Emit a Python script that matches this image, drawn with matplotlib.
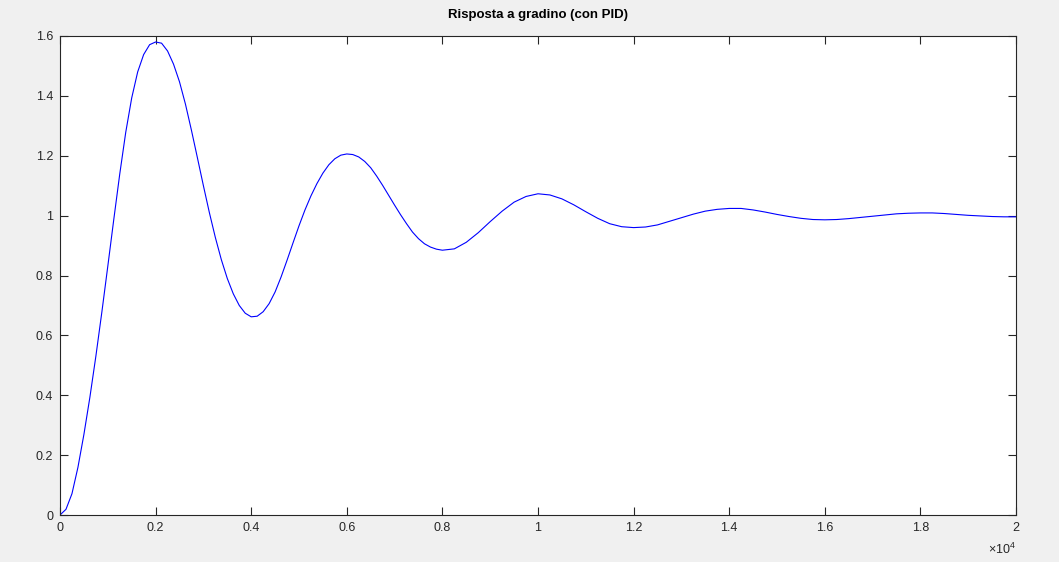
import numpy as np
import matplotlib
matplotlib.use("Agg")
import matplotlib.pyplot as plt
from matplotlib.ticker import FuncFormatter

plt.rcParams['font.family'] = ['Liberation Sans', 'DejaVu Sans']
plt.rcParams['mathtext.fontset'] = 'custom'
plt.rcParams['mathtext.rm'] = 'Liberation Sans'

# step response samples: fine grid up to 8000, coarser after
t_fine = np.arange(0, 8000, 125)
y_fine = [0.000, 0.019, 0.071, 0.159, 0.269, 0.393, 0.530, 0.677,
          0.831, 0.987, 1.139, 1.278, 1.393, 1.480, 1.538, 1.571,
          1.580, 1.576, 1.550, 1.506, 1.447, 1.372, 1.285, 1.193,
          1.100, 1.010, 0.927, 0.853, 0.790, 0.739, 0.700, 0.674,
          0.662, 0.664, 0.679, 0.706, 0.745, 0.795, 0.851, 0.909,
          0.966, 1.019, 1.066, 1.107, 1.142, 1.170, 1.190, 1.202,
          1.206, 1.204, 1.196, 1.181, 1.160, 1.132, 1.101, 1.068,
          1.035, 1.003, 0.973, 0.945, 0.923, 0.906, 0.895, 0.888]
t_coarse = np.arange(8000, 20001, 250)
y_coarse = [0.8845, 0.889, 0.911, 0.943, 0.980, 1.015, 1.045, 1.064,
            1.073, 1.069, 1.056, 1.036, 1.013, 0.991, 0.973, 0.963,
            0.960, 0.962, 0.969, 0.981, 0.993, 1.005, 1.015, 1.021,
            1.024, 1.024, 1.019, 1.012, 1.004, 0.997, 0.991, 0.987,
            0.986, 0.987, 0.990, 0.994, 0.998, 1.002, 1.006, 1.008,
            1.009, 1.009, 1.007, 1.004, 1.001, 0.999, 0.997, 0.996,
            0.996]

t = np.concatenate([t_fine, t_coarse])
y = np.array(y_fine + y_coarse)

xticks = [0, 2000, 4000, 6000, 8000, 10000, 12000, 14000, 16000, 18000, 20000]
yticks = [0, 0.2, 0.4, 0.6, 0.8, 1.0, 1.2, 1.4, 1.6]

fig = plt.figure(figsize=(10.59, 5.62), dpi=100, facecolor='#f0f0f0')
ax = fig.add_axes([60 / 1059, 47 / 562, 956 / 1059, 479 / 562])
ax.set_facecolor('white')

ax.plot(t, y, color='#0000ff', linewidth=0.8)

ax.set_xlim(0, 20000)
ax.set_ylim(0, 1.6)
ax.set_xticks(xticks)
ax.set_yticks(yticks)
ax.xaxis.set_major_formatter(FuncFormatter(lambda v, _: f'{v / 1e4:g}'))
ax.yaxis.set_major_formatter(FuncFormatter(lambda v, _: f'{v:g}'))
ax.tick_params(direction='in', length=6, width=0.8, colors='#262626',
               labelsize=9, top=True, right=True, pad=5)
for s in ax.spines.values():
    s.set_color('#262626')
    s.set_linewidth(0.8)

ax.text(1.0, -0.072, r'$\times10^{4}$', transform=ax.transAxes,
        ha='right', va='center', fontsize=9, color='#262626')
ax.set_title('Risposta a gradino (con PID)', fontsize=9.5, fontweight='bold',
             color='black', pad=13)

fig.savefig('out.png', dpi=100, facecolor=fig.get_facecolor())
